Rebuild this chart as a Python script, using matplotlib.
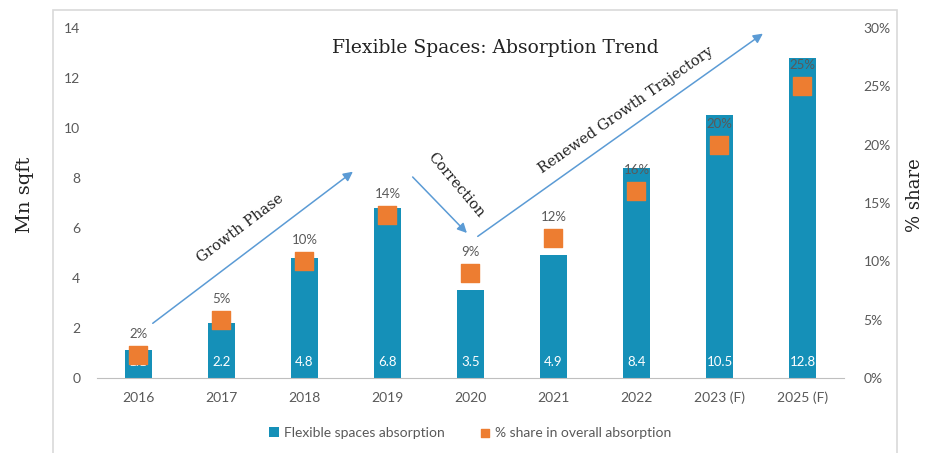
import matplotlib.pyplot as plt
from matplotlib.patches import Rectangle

years = ['2016', '2017', '2018', '2019', '2020', '2021', '2022', '2023 (F)', '2025 (F)']
absorption = [1.1, 2.2, 4.8, 6.8, 3.5, 4.9, 8.4, 10.5, 12.8]
share = [2, 5, 10, 14, 9, 12, 16, 20, 25]

bar_color = '#1590B8'
orange = '#ED7D31'
arrow_color = '#5B9BD5'
grey = '#595959'
sans = 'Lato'
serif = 'DejaVu Serif'

fig = plt.figure(figsize=(9.29, 4.53), dpi=100)
fig.patches.append(Rectangle((0.057, -0.01), 0.9085, 0.988, transform=fig.transFigure,
                             fill=False, edgecolor='#D9D9D9', linewidth=1.2))

ax = fig.add_axes([0.1044, 0.1656, 0.8041, 0.7726])
ax2 = ax.twinx()

x = range(len(years))
ax.bar(x, absorption, width=0.32, color=bar_color, label='Flexible spaces absorption', zorder=2)
for i, v in enumerate(absorption):
    ax.text(i, 0.65, f'{v}', ha='center', va='center', color='white', fontsize=9.5, family=sans, zorder=3)

ax2.scatter(x, share, marker='s', s=150, color=orange, zorder=4, label='% share in overall absorption')
for i, s in enumerate(share):
    ax2.text(i, s + 1.8, f'{s}%', ha='center', va='center', color=grey, fontsize=9.5, family=sans)

ax.set_xlim(-0.5, len(years) - 0.5)
ax.set_ylim(0, 14)
ax.set_yticks(range(0, 15, 2))
ax2.set_ylim(0, 30)
ax2.set_yticks(range(0, 31, 5))
ax2.set_yticklabels([f'{t}%' for t in range(0, 31, 5)])
ax.set_xticks(list(x))
ax.set_xticklabels(years)

for a in (ax, ax2):
    for side in ('top', 'left', 'right'):
        a.spines[side].set_visible(False)
    a.spines['bottom'].set_color('#BFBFBF')
    a.tick_params(length=0, colors=grey, labelsize=10)
    for lab in a.get_xticklabels() + a.get_yticklabels():
        lab.set_family(sans)
ax2.spines['bottom'].set_visible(False)
ax.tick_params(axis='x', pad=10)
ax.tick_params(axis='y', pad=12)
ax2.tick_params(axis='y', pad=14)

fig.text(0.027, 0.57, 'Mn sqft', rotation=90, ha='center', va='center', fontsize=14, family=serif, color='#222222')
fig.text(0.985, 0.57, '% share', rotation=90, ha='center', va='center', fontsize=13, family=serif, color='#222222')
fig.text(0.533, 0.893, 'Flexible Spaces: Absorption Trend', ha='center', va='center', fontsize=13.5, family=serif, color='#222222')

# trend arrows
arr = dict(arrowstyle='-|>', color=arrow_color, lw=1.1, mutation_scale=14)
ax.annotate('', xy=(2.61, 8.32), xytext=(0.145, 2.12), arrowprops=arr, zorder=5)
ax.annotate('', xy=(3.98, 5.72), xytext=(3.28, 8.12), arrowprops=arr, zorder=5)
ax.annotate('', xy=(7.55, 13.84), xytext=(4.06, 5.6), arrowprops=arr, zorder=5)
ax.text(1.23, 6.0, 'Growth Phase', rotation=37, ha='center', va='center', fontsize=10.5, family=serif, color='#222222')
ax.text(3.82, 7.7, 'Correction', rotation=-50, ha='center', va='center', fontsize=10.5, family=serif, color='#222222')
ax.text(5.87, 10.7, 'Renewed Growth Trajectory', rotation=35, ha='center', va='center', fontsize=10.5, family=serif, color='#222222')

h1, l1 = ax.get_legend_handles_labels()
h2, l2 = ax2.get_legend_handles_labels()
leg = fig.legend(h1 + h2, l1 + l2, loc='center', bbox_to_anchor=(0.506, 0.044), ncol=2, frameon=False,
                 handlelength=0.7, handleheight=0.7, columnspacing=2.5, handletextpad=0.4,
                 markerscale=0.45, prop={'family': sans, 'size': 10})
for t in leg.get_texts():
    t.set_color(grey)

fig.savefig('out.png', dpi=100)
